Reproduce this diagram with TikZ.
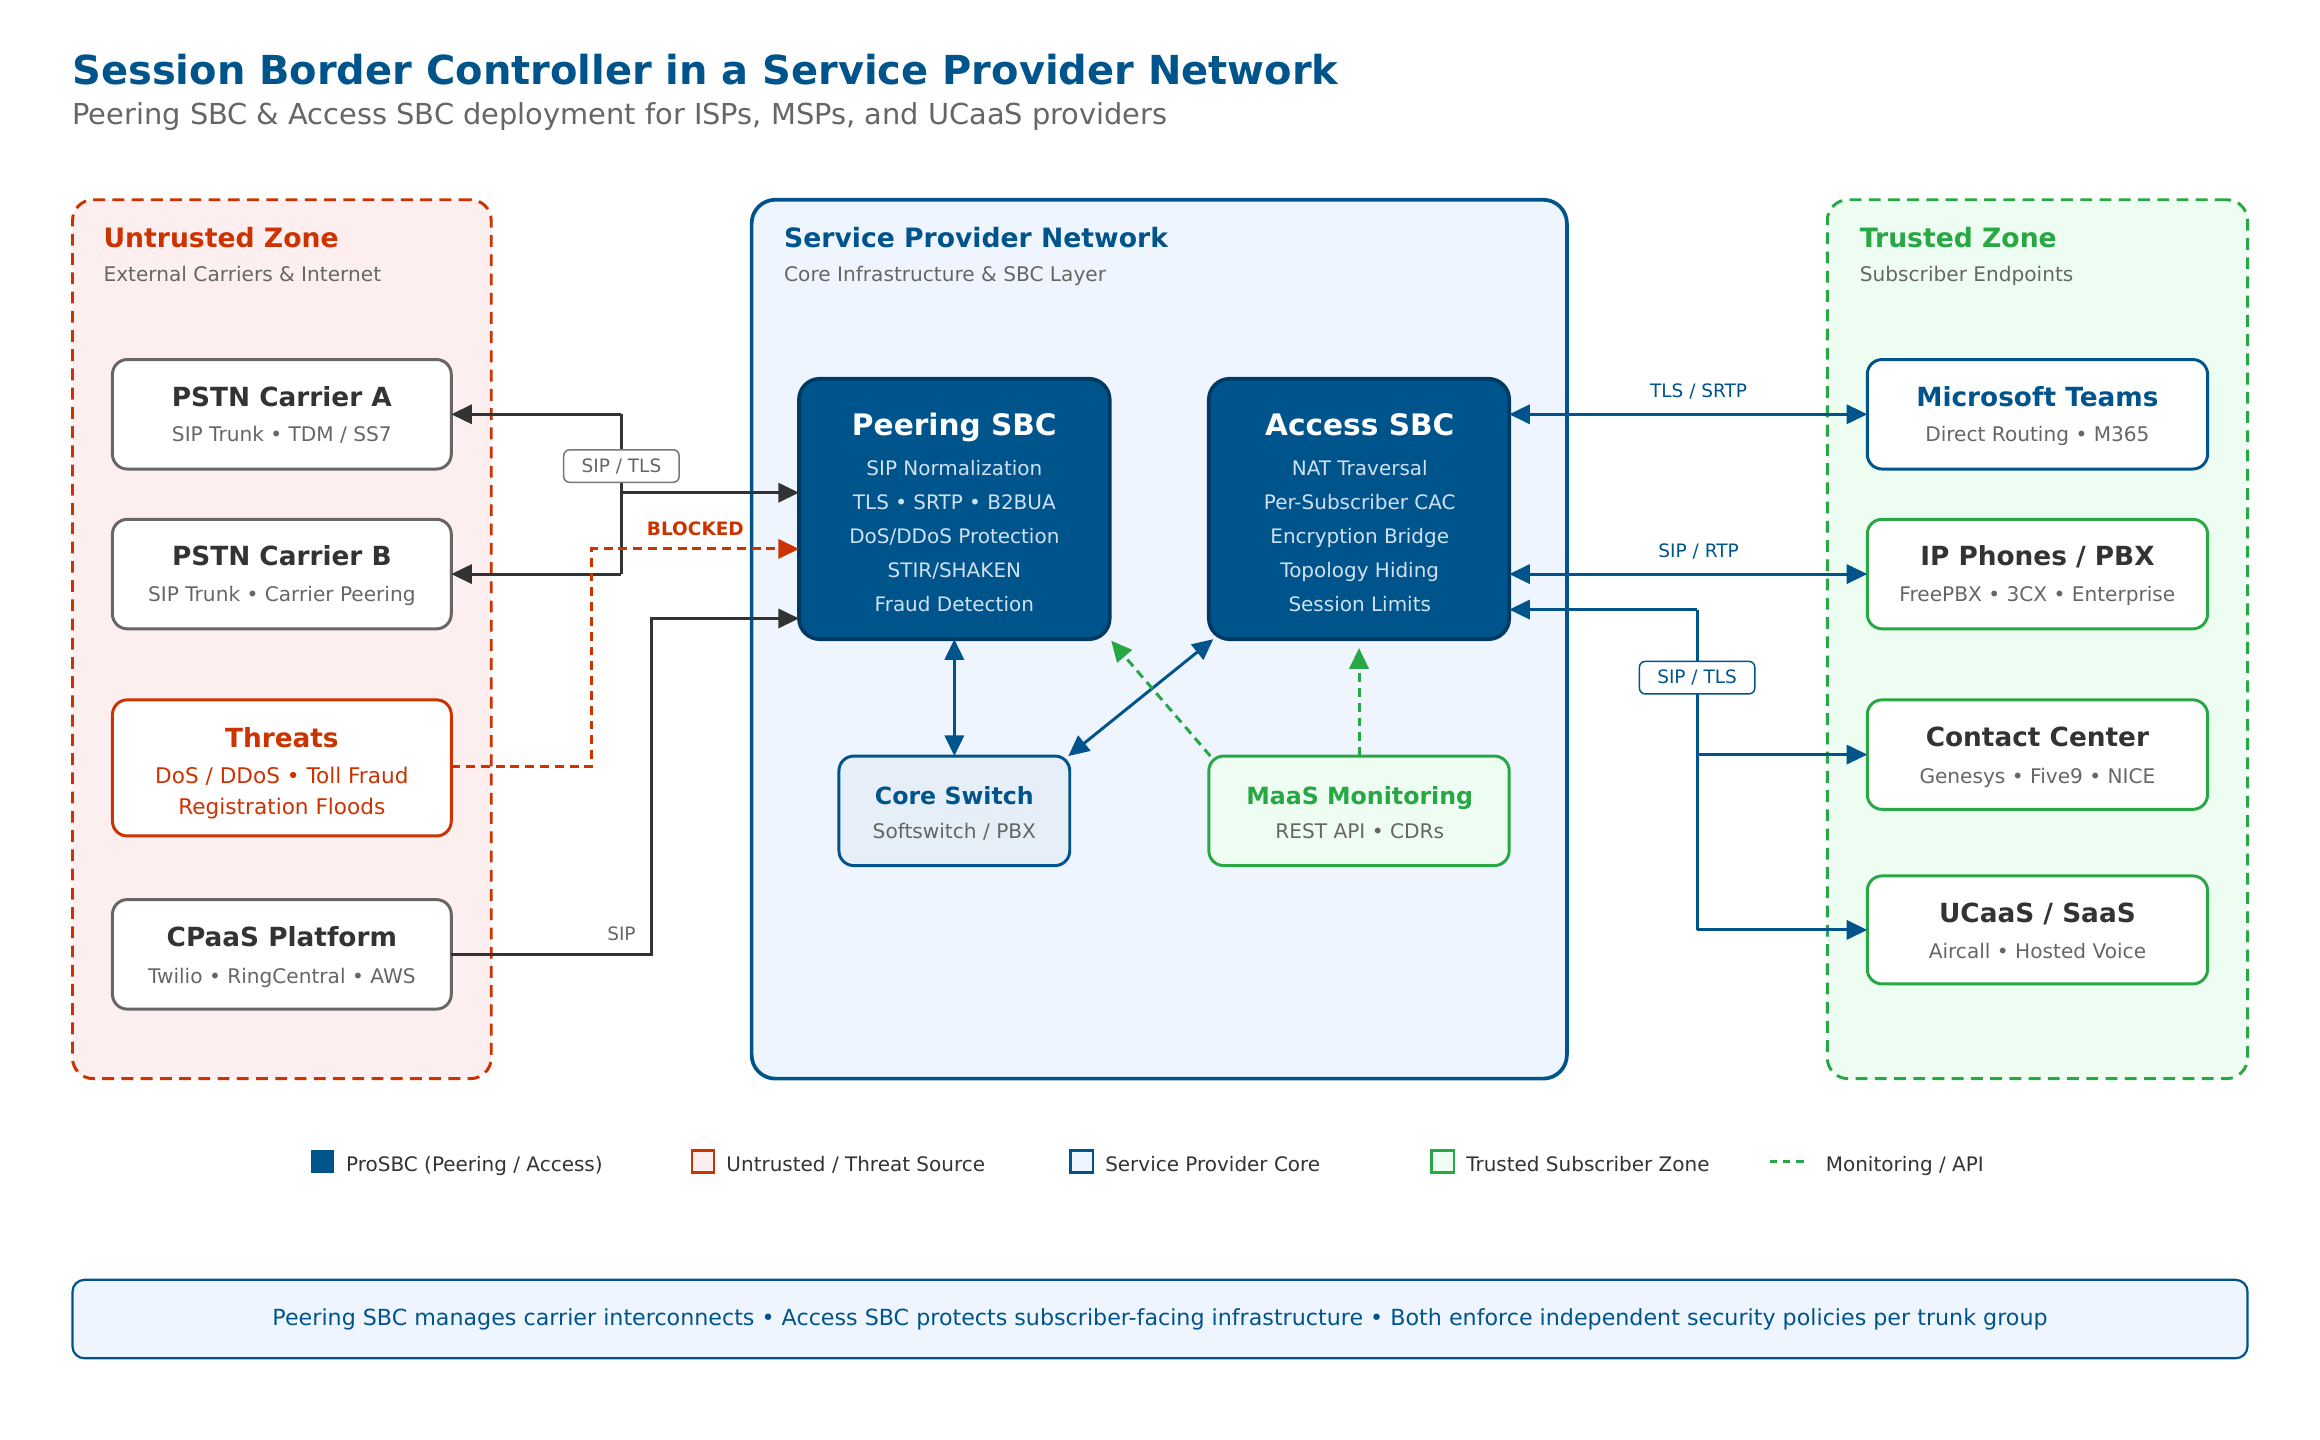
\documentclass[tikz,border=0pt]{standalone}
\usepackage{fontspec}
\setmainfont{DejaVu Sans}
\usetikzlibrary{arrows.meta}
\definecolor{spblue}{HTML}{00548C}
\definecolor{sbcedge}{HTML}{003A63}
\definecolor{untred}{HTML}{CC3300}
\definecolor{trgreen}{HTML}{28A745}
\definecolor{txtdark}{HTML}{333333}
\definecolor{txtgray}{HTML}{666666}
\definecolor{pinkbg}{HTML}{FDEFEF}
\definecolor{bluebg}{HTML}{EFF5FE}
\definecolor{greenbg}{HTML}{EEFDF1}
\definecolor{csbg}{HTML}{E6EFF8}
\definecolor{sbctxt}{HTML}{CFE1F1}
\definecolor{linegray}{HTML}{333333}
\definecolor{lblgray}{HTML}{777777}
\begin{document}
\begin{tikzpicture}[x=1pt,y=-1pt,
  every node/.style={inner sep=0pt, outer sep=0pt},
  zone/.style={rectangle, rounded corners=14pt, line width=2pt},
  ebox/.style={rectangle, rounded corners=10pt, line width=2pt, fill=white, minimum width=229pt, minimum height=74pt},
  sbc/.style={rectangle, rounded corners=14pt, line width=2.5pt, draw=sbcedge, fill=spblue, minimum height=176pt},
  ztitle/.style={anchor=base west, font=\fontsize{18}{21}\selectfont\bfseries},
  zsub/.style={anchor=base west, text=txtgray, font=\fontsize{13.6}{16}\selectfont},
  ntitle/.style={anchor=base, text=txtdark, font=\fontsize{17.8}{21}\selectfont\bfseries},
  nsub/.style={anchor=base, text=txtgray, font=\fontsize{13.6}{16}\selectfont},
  stitle/.style={anchor=base, text=white, font=\fontsize{20}{24}\selectfont\bfseries},
  sline/.style={anchor=base, text=sbctxt, font=\fontsize{13.5}{16}\selectfont},
  lbl/.style={font=\fontsize{12.5}{15}\selectfont},
  legtxt/.style={anchor=base west, text=txtdark, font=\fontsize{13.5}{16}\selectfont},
  conn/.style={line width=2pt, draw=linegray},
  bconn/.style={line width=2pt, draw=spblue},
  arr/.style={-{Triangle[length=14pt,width=13pt]}},
  darr/.style={{Triangle[length=14pt,width=13pt]}-{Triangle[length=14pt,width=13pt]}},
  mondash/.style={line width=2pt, draw=trgreen, dash pattern=on 6pt off 4pt}
]
\useasboundingbox (0,0) rectangle (1568,973);
\fill[white] (0,0) rectangle (1568,973);

% Title
\node[anchor=base west, text=spblue, font=\fontsize{27}{31}\selectfont\bfseries] (title) at (49,57) {Session Border Controller in a Service Provider Network};
\node[anchor=base west, text=txtgray, font=\fontsize{19.5}{23}\selectfont] (subtitle) at (49,84) {Peering SBC \& Access SBC deployment for ISPs, MSPs, and UCaaS providers};

% Zones
\node[zone, draw=untred, fill=pinkbg, dash pattern=on 8pt off 5pt, minimum width=283pt, minimum height=594pt] (uz) at (190.5,432) {};
\node[zone, draw=spblue, fill=bluebg, line width=2.5pt, rounded corners=16pt, minimum width=551pt, minimum height=594pt] (spz) at (783.5,432) {};
\node[zone, draw=trgreen, fill=greenbg, dash pattern=on 8pt off 5pt, minimum width=284pt, minimum height=594pt] (tz) at (1377,432) {};

\node[ztitle, text=untred] (uzt) at (70,167) {Untrusted Zone};
\node[zsub] (uzs) at (70,190) {External Carriers \& Internet};
\node[ztitle, text=spblue] (spzt) at (530,167) {Service Provider Network};
\node[zsub] (spzs) at (530,190) {Core Infrastructure \& SBC Layer};
\node[ztitle, text=trgreen] (tzt) at (1257,167) {Trusted Zone};
\node[zsub] (tzs) at (1257,190) {Subscriber Endpoints};

% Left nodes
\node[ebox, draw=txtgray] (pa) at (190.5,280) {};
\node[ntitle] (pat) at (190.5,274.5) {PSTN Carrier A};
\node[nsub] (pas) at (190.5,298.5) {SIP Trunk • TDM / SS7};

\node[ebox, draw=txtgray] (pb) at (190.5,388) {};
\node[ntitle] (pbt) at (190.5,382.5) {PSTN Carrier B};
\node[nsub] (pbs) at (190.5,406.5) {SIP Trunk • Carrier Peering};

\node[ebox, draw=untred, minimum height=92pt] (th) at (190.5,519) {};
\node[ntitle, text=untred] (tht) at (190.5,505.5) {Threats};
\node[nsub, text=untred, font=\fontsize{14.6}{17}\selectfont] (ths1) at (190.5,529.5) {DoS / DDoS • Toll Fraud};
\node[nsub, text=untred, font=\fontsize{14.6}{17}\selectfont] (ths2) at (190.5,550.5) {Registration Floods};

\node[ebox, draw=txtgray] (cp) at (190.5,645) {};
\node[ntitle] (cpt) at (190.5,639.5) {CPaaS Platform};
\node[nsub] (cps) at (190.5,664.5) {Twilio • RingCentral • AWS};

% SBCs
\node[sbc, minimum width=210pt] (psbc) at (645,344) {};
\node[stitle] (psbct) at (645,294.5) {Peering SBC};
\node[sline] (ps1) at (645,321.5) {SIP Normalization};
\node[sline] (ps2) at (645,344.5) {TLS • SRTP • B2BUA};
\node[sline] (ps3) at (645,367.5) {DoS/DDoS Protection};
\node[sline] (ps4) at (645,390.5) {STIR/SHAKEN};
\node[sline] (ps5) at (645,413.5) {Fraud Detection};

\node[sbc, minimum width=203pt] (asbc) at (918.5,344) {};
\node[stitle] (asbct) at (919,294.5) {Access SBC};
\node[sline] (as1) at (919,321.5) {NAT Traversal};
\node[sline] (as2) at (919,344.5) {Per-Subscriber CAC};
\node[sline] (as3) at (919,367.5) {Encryption Bridge};
\node[sline] (as4) at (919,390.5) {Topology Hiding};
\node[sline] (as5) at (919,413.5) {Session Limits};

% Core switch and MaaS
\node[rectangle, rounded corners=10pt, line width=2pt, draw=spblue, fill=csbg, minimum width=156pt, minimum height=74pt] (cs) at (645,548) {};
\node[ntitle, text=spblue, font=\fontsize{16}{19}\selectfont\bfseries] (cst) at (645,543.5) {Core Switch};
\node[nsub] (css) at (645,566.5) {Softswitch / PBX};

\node[rectangle, rounded corners=10pt, line width=2pt, draw=trgreen, fill=greenbg, minimum width=203pt, minimum height=74pt] (ms) at (918.5,548) {};
\node[ntitle, text=trgreen, font=\fontsize{16}{19}\selectfont\bfseries] (mst) at (919,543.5) {MaaS Monitoring};
\node[nsub] (mss) at (919,566.5) {REST API • CDRs};

% Right nodes
\node[ebox, draw=spblue, minimum width=230pt] (mt) at (1377,280) {};
\node[ntitle, text=spblue] (mtt) at (1377,274.5) {Microsoft Teams};
\node[nsub] (mts) at (1377,298.5) {Direct Routing • M365};

\node[ebox, draw=trgreen, minimum width=230pt] (ip) at (1377,388) {};
\node[ntitle] (ipt) at (1377,382.5) {IP Phones / PBX};
\node[nsub] (ips) at (1377,406.5) {FreePBX • 3CX • Enterprise};

\node[ebox, draw=trgreen, minimum width=230pt] (cc) at (1377,510) {};
\node[ntitle] (cct) at (1377,504.5) {Contact Center};
\node[nsub] (ccs) at (1377,529.5) {Genesys • Five9 • NICE};

\node[ebox, draw=trgreen, minimum width=230pt, minimum height=73pt] (uc) at (1377,628.5) {};
\node[ntitle] (uct) at (1377,623.5) {UCaaS / SaaS};
\node[nsub] (ucs) at (1377,647.5) {Aircall • Hosted Voice};

% Left connectors
\coordinate (jA) at (420,280);
\coordinate (jB) at (420,388);
\coordinate (jM) at (420,333);
\draw[conn, arr] (jA) -- (pa.east);
\draw[conn] (jA) -- (jB);
\draw[conn, arr] (jB) -- (pb.east);
\draw[conn, arr] (jM) -- ([yshift=11pt]psbc.west);
\node[rectangle, rounded corners=4pt, draw=lblgray, line width=1pt, fill=white, minimum width=78pt, minimum height=22pt, text=txtgray, lbl] (siptls1) at (420,315) {SIP / TLS};

\coordinate (t1) at (400,518);
\coordinate (t2) at (400,371);
\draw[line width=2pt, draw=untred, dash pattern=on 6pt off 4pt, -{Triangle[length=14pt,width=13pt]}] (th.east |- t1) -- (t1) -- (t2) -- ([yshift=-27pt]psbc.west);
\node[text=untred, font=\fontsize{12.5}{15}\selectfont\bfseries] (blk) at (470,357.5) {BLOCKED};

\coordinate (c1) at (440,645);
\coordinate (c2) at (440,418);
\draw[conn, arr] (cp.east) -- (c1) -- (c2) -- ([yshift=-74pt]psbc.west);
\node[text=txtgray, lbl] (siplbl) at (420,631) {SIP};

% Internal connectors
\draw[bconn, darr] (psbc.south) -- (cs.north);
\draw[bconn, darr] ([xshift=3pt]asbc.south west) -- ([xshift=-1pt]cs.north east);
\draw[mondash, arr] ([xshift=1pt]ms.north west) -- ([xshift=1pt,yshift=-1pt]psbc.south east);
\draw[mondash, arr, shorten >=6pt] (ms.north) -- (asbc.south);

% Right connectors
\draw[bconn, darr] ([yshift=64pt]asbc.east) -- (mt.west);
\node[text=spblue, lbl] (tlssrtp) at (1148,264.5) {TLS / SRTP};
\draw[bconn, darr] ([yshift=-44pt]asbc.east) -- (ip.west);
\node[text=spblue, lbl] (siprtp) at (1148,372.5) {SIP / RTP};
\coordinate (r1) at (1147,412);
\coordinate (r2) at (1147,510);
\coordinate (r3) at (1147,628.5);
\draw[bconn, arr] (r1) -- ([yshift=-68pt]asbc.east);
\draw[bconn] (r1) -- (r3);
\draw[bconn, arr] (r2) -- (cc.west);
\draw[bconn, arr] (r3) -- (uc.west);
\node[rectangle, rounded corners=4pt, draw=spblue, line width=1pt, fill=white, minimum width=78pt, minimum height=22pt, text=spblue, lbl] (siptls2) at (1147,458) {SIP / TLS};

% Legend
\node[rectangle, fill=spblue, minimum size=16pt] (lg1) at (218,785) {};
\node[legtxt] (lg1t) at (234,791.5) {ProSBC (Peering / Access)};
\node[rectangle, draw=untred, fill=pinkbg, line width=1.5pt, minimum size=15pt] (lg2) at (475,785) {};
\node[legtxt] (lg2t) at (491,791.5) {Untrusted / Threat Source};
\node[rectangle, draw=spblue, fill=bluebg, line width=1.5pt, minimum size=15pt] (lg3) at (731,785) {};
\node[legtxt] (lg3t) at (747,791.5) {Service Provider Core};
\node[rectangle, draw=trgreen, fill=greenbg, line width=1.5pt, minimum size=15pt] (lg4) at (975,785) {};
\node[legtxt] (lg4t) at (991,791.5) {Trusted Subscriber Zone};
\coordinate (lg5a) at (1196,785);
\coordinate (lg5b) at (1222,785);
\draw[line width=2pt, draw=trgreen, dash pattern=on 5pt off 4pt] (lg5a) -- (lg5b);
\node[legtxt] (lg5t) at (1234,791.5) {Monitoring / API};

% Bottom note
\node[rectangle, rounded corners=8pt, draw=spblue, fill=bluebg, line width=1.5pt, minimum width=1470pt, minimum height=53pt, text=spblue, font=\fontsize{15}{18}\selectfont] (note) at (784,891.5) {Peering SBC manages carrier interconnects • Access SBC protects subscriber-facing infrastructure • Both enforce independent security policies per trunk group};
\end{tikzpicture}
\end{document}
